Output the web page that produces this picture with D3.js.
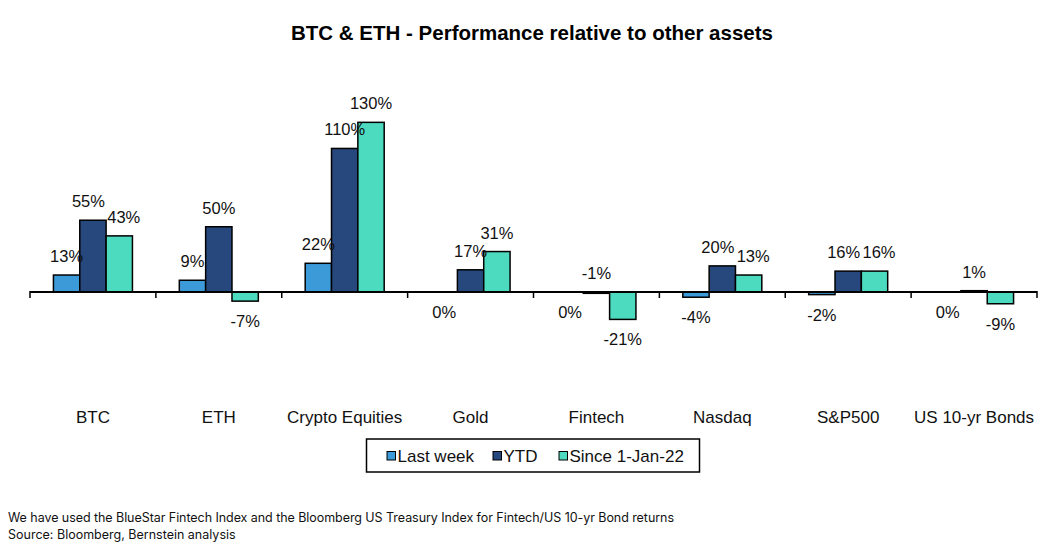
<!DOCTYPE html>
<html><head><meta charset="utf-8">
<script src="https://cdn.jsdelivr.net/npm/d3@7"></script>
<style>
body{margin:0;background:#fff;}
svg text{font-family:Arial,"Liberation Sans",sans-serif;}
</style></head>
<body><svg id="c" width="1054" height="552"></svg>
<script>
const categories = ["BTC","ETH","Crypto Equities","Gold","Fintech","Nasdaq","S&P500","US 10-yr Bonds"];
const seriesNames = ["Last week","YTD","Since 1-Jan-22"];
const lastWeek = [13, 9, 22, 0, 0, -4, -2, 0];
const ytd = [55, 50, 110, 17, -1, 20, 16, 1];
const since22 = [43, -7, 130, 31, -21, 13, 16, -9];
const colors = ["#3d9ad8", "#27487c", "#4ddbc0"];
const title = "BTC & ETH - Performance relative to other assets";
const notes = ["We have used the BlueStar Fintech Index and the Bloomberg US Treasury Index for Fintech/US 10-yr Bond returns",
               "Source: Bloomberg, Bernstein analysis"];

const seriesValues = [lastWeek, ytd, since22];
const svg = d3.select("#c");

svg.append("text").attr("x", 532).attr("y", 40).attr("text-anchor","middle")
  .attr("font-size", 20.5).attr("font-weight","bold").text(title);

const x0 = d3.scaleBand().domain(categories).range([30, 1037]).paddingInner(0).paddingOuter(0);
const x1 = d3.scaleBand().domain(seriesNames).range([0, x0.bandwidth()]).paddingInner(0).paddingOuter(0.89);
const y = d3.scaleLinear().domain([-60, 140]).range([292 + 60*1.305, 292 - 140*1.305]);

const data = [];
categories.forEach((c,i)=>seriesNames.forEach((s,j)=>data.push({c, i, s, j, v: seriesValues[j][i]})));

const g = svg.append("g");
g.selectAll("rect").data(data).enter().append("rect")
  .attr("x", d=>x0(d.c)+x1(d.s))
  .attr("width", x1.bandwidth())
  .attr("y", d=>y(Math.max(0,d.v)))
  .attr("height", d=>Math.abs(y(d.v)-y(0)))
  .attr("fill", d=>colors[d.j])
  .attr("stroke", "#000").attr("stroke-width", 1.5);

// zero axis line with boundary ticks
const axisG = svg.append("g").attr("transform", `translate(0,${y(0)})`);
axisG.append("line").attr("x1", x0.range()[0]).attr("x2", x0.range()[1]).attr("y1",0).attr("y2",0)
  .attr("stroke","#000").attr("stroke-width",2);
const bounds = categories.map(c=>x0(c)).concat([x0.range()[1]]);
axisG.selectAll("line.tick").data(bounds).enter().append("line").attr("class","tick")
  .attr("x1",d=>d).attr("x2",d=>d).attr("y1",-1).attr("y2",6).attr("stroke","#000").attr("stroke-width",1.5);

// value labels
const above = d => d.v > 0 || (d.v<0 && d.v>-2);
const labels = g.selectAll("text.lbl").data(data).enter().append("text").attr("class","lbl")
  .attr("x", d=>x0(d.c)+x1(d.s)+x1.bandwidth()/2)
  .attr("y", d=> above(d) ? y(Math.max(0,d.v)) - 13 : y(Math.min(0,d.v)) + 26)
  .attr("text-anchor","middle").attr("font-size", 16.5).attr("fill","#111")
  .text(d=>d.v + "%");

// simple collision avoidance between neighbouring labels in a group
labels.each(function(d){ const b=this.getBBox(); d.bx=b.x; d.by=b.y; d.bw=b.width; d.bh=b.height; d.dx=0; });
categories.forEach((c,i)=>{
  const ls = data.filter(d=>d.i===i);
  for(let k=0;k<ls.length-1;k++){
    const a=ls[k], b=ls[k+1];
    const vOver = !(a.by+a.bh < b.by || b.by+b.bh < a.by);
    const hOver = (a.bx+a.dx+a.bw+2) - (b.bx+b.dx);
    if(vOver && hOver>0){ a.dx -= hOver/2; b.dx += hOver/2; }
  }
});
labels.attr("x", d=>x0(d.c)+x1(d.s)+x1.bandwidth()/2 + d.dx);

// category labels
const catAxis = svg.append("g").attr("transform","translate(0,403)")
  .call(d3.axisBottom(x0).tickSize(0).tickPadding(0));
catAxis.select(".domain").remove();
catAxis.selectAll("text").attr("font-size",17).attr("fill","#111")
  .style("font-family","Arial, 'Liberation Sans', sans-serif").attr("dy","1.2em");

// legend
const lg = svg.append("g");
lg.append("rect").attr("x",366.5).attr("y",439).attr("width",333).attr("height",33)
  .attr("fill","#fff").attr("stroke","#000").attr("stroke-width",1.5);
const legX = [387, 493, 559];
seriesNames.forEach((s,j)=>{
  lg.append("rect").attr("x",legX[j]).attr("y",451.5).attr("width",8.5).attr("height",8.5)
    .attr("fill",colors[j]).attr("stroke","#000").attr("stroke-width",1);
  lg.append("text").attr("x",legX[j]+10.5).attr("y",462).attr("font-size",17).attr("fill","#111").text(s);
});

// notes
notes.forEach((t,i)=>{
  svg.append("text").attr("x",8).attr("y",522+i*17).attr("font-size",12.5).attr("fill","#111")
    .style("font-family","Inter, 'Liberation Sans', sans-serif").attr("textLength", i===0?666:null).text(t);
});
</script></body></html>
